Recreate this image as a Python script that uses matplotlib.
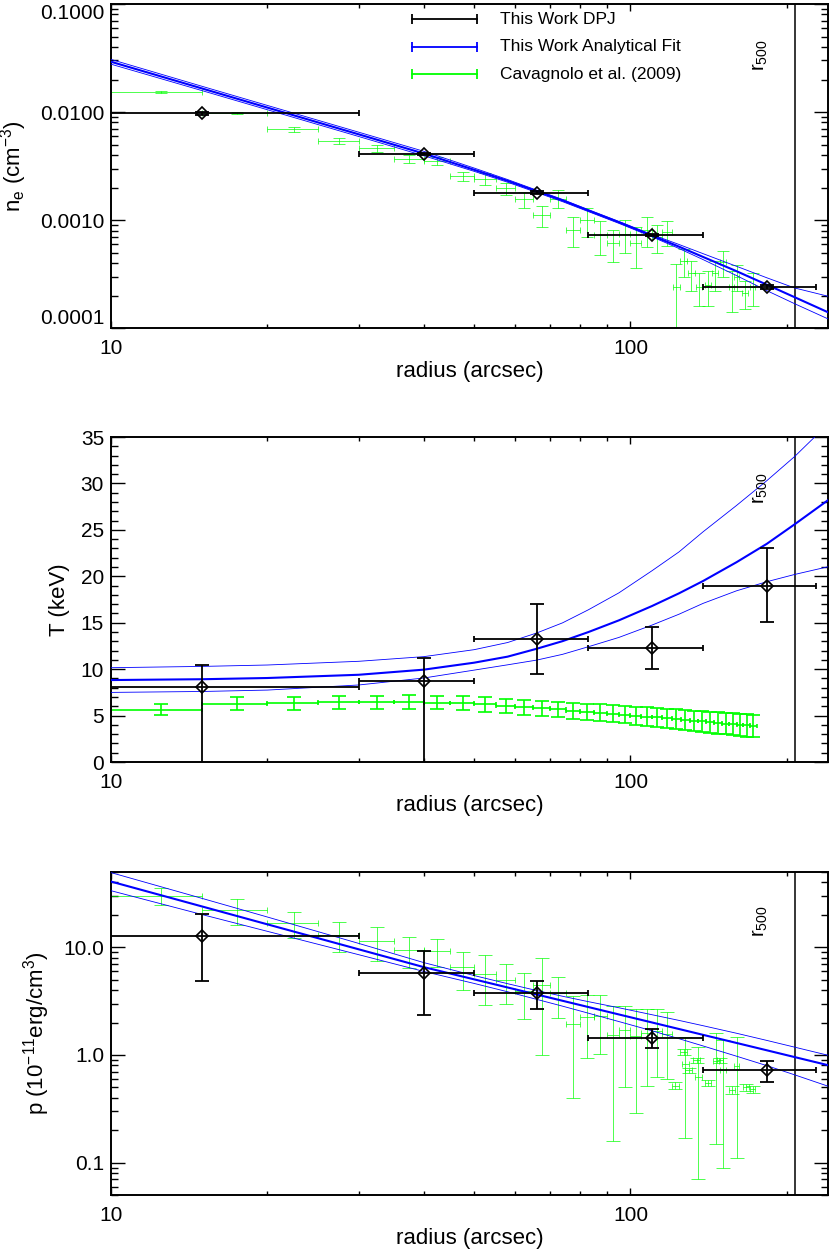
import matplotlib
matplotlib.use("Agg")
import matplotlib.pyplot as plt
from matplotlib.ticker import (FixedLocator, LogLocator, MultipleLocator,
                               FormatStrFormatter, NullFormatter)
import numpy as np

plt.rcParams.update({
    "font.family": ["Liberation Sans", "DejaVu Sans"],
    "mathtext.fontset": "custom",
    "mathtext.rm": "Liberation Sans",
    "mathtext.it": "Liberation Sans:italic",
    "font.size": 15,
    "axes.linewidth": 1.4,
})

# ---- this work, deprojected bins (arcsec)
dpj_r = [15, 40, 66, 110, 183]
dpj_rin = [0, 30, 50, 83, 138]
dpj_rout = [30, 50, 83, 138, 228]

dpj_ne = [0.0097, 0.00408, 0.00179, 0.000726, 0.000238]
dpj_ne_err = [0.0003, 0.0001, 0.00005, 0.00002, 0.00001]

dpj_T = [8.1, 8.7, 13.3, 12.3, 19.0]
dpj_T_lo = [9.0, 9.5, 3.8, 2.25, 3.9]
dpj_T_hi = [2.4, 2.5, 3.75, 2.25, 4.0]

dpj_p = [12.6, 5.74, 3.78, 1.45, 0.72]
dpj_p_err = [7.7, 3.4, 1.12, 0.28, 0.16]

# ---- analytical fit (best, upper, lower)
fit_r = [10, 15, 20, 30, 40, 50, 58, 66, 74, 83, 95, 110, 124, 138, 160, 183, 207, 240]
fit_ne = [0.0292, 0.01648, 0.01099, 0.00621, 0.00413, 0.00292, 0.002307, 0.00185,
          0.001519, 0.001225, 0.000954, 0.000717, 0.000567, 0.000455, 0.000336,
          0.000252, 0.000193, 0.00014]
fit_ne_hi = [0.0307, 0.01726, 0.01151, 0.0065, 0.00433, 0.00303, 0.002371, 0.00189,
             0.00155, 0.001247, 0.000971, 0.000733, 0.000594, 0.000488, 0.000373,
             0.000292, 0.000235, 0.000197]
fit_ne_lo = [0.02773, 0.01574, 0.0105, 0.00593, 0.00394, 0.002825, 0.002239, 0.0018,
             0.00148, 0.001197, 0.000932, 0.0007, 0.000545, 0.00043, 0.000306,
             0.000222, 0.000168, 0.0001216]

fit_T = [8.83, 8.92, 9.05, 9.4, 9.95, 10.7, 11.35, 12.2, 13.02, 14.0, 15.26, 16.8,
         18.17, 19.5, 21.52, 23.5, 25.6, 28.2]
fit_T_hi = [10.16, 10.3, 10.45, 10.85, 11.35, 12.1, 12.87, 13.9, 14.99, 16.4, 18.22,
            20.6, 22.63, 24.8, 27.63, 30.3, 32.9, 36.4]
fit_T_lo = [7.5, 7.6, 7.75, 8.3, 9.05, 9.9, 10.47, 10.98, 11.6, 12.42, 13.42, 14.75,
            15.92, 17.09, 18.44, 19.42, 20.2, 21.03]

fit_p = [40.8, 23.89, 16.34, 9.57, 6.545, 5.04, 4.236, 3.643, 3.186, 2.786, 2.378,
         2.004, 1.742, 1.537, 1.293, 1.105, 0.956, 0.804]
fit_p_hi = [49.4, 28.39, 19.11, 10.86, 7.21, 5.465, 4.592, 3.967, 3.51, 3.126, 2.744,
            2.365, 2.094, 1.869, 1.591, 1.365, 1.182, 0.994]
fit_p_lo = [33.55, 20.1, 14.07, 8.53, 5.97, 4.618, 3.864, 3.284, 2.84, 2.443, 2.043,
            1.678, 1.416, 1.212, 0.974, 0.796, 0.654, 0.513]

# ---- Cavagnolo et al. (2009)
cav_ne_r = [12.5, 17.5, 22.5, 27.5, 32.5, 37.5, 42.5, 47.5, 52.5, 57.5, 62.5,
            67.5, 72.5, 77.5, 82.5, 87.5, 92.5, 97.5, 102.5, 107.5, 112.5,
            117.5, 122.5, 126.5, 131.0, 135.5, 141.0, 145.5, 151.0, 156.5,
            160.0, 166.0, 172.0]
cav_ne_dr = [2.5] * 22 + [2.0] * 11
cav_ne = [0.0154, 0.0097, 0.0069, 0.0054, 0.0046, 0.0037, 0.0035, 0.00255,
          0.0024, 0.00196, 0.00155, 0.00111, 0.00158, 0.00081, 0.00100,
          0.00072, 0.00061, 0.00075, 0.00061, 0.00081, 0.00070, 0.00077,
          0.00024, 0.00042, 0.00032, 0.00024, 0.00025, 0.00032, 0.00041,
          0.00024, 0.00030, 0.00021, 0.00024]
cav_ne_err = [0.0003, 0.0002, 0.0003, 0.0003, 0.0003, 0.0003, 0.0003, 0.00025,
              0.0003, 0.00025, 0.00025, 0.00025, 0.0003, 0.00025, 0.0003,
              0.00025, 0.0002, 0.00025, 0.00025, 0.00025, 0.0002, 0.0002,
              0.00015, 0.00012, 0.0001, 0.00008, 0.00009, 0.0001, 0.00011,
              0.0001, 0.00008, 0.00006, 0.00008]

cav_T_r = [12.5, 17.5, 22.5, 27.5, 32.5, 37.5, 42.5, 47.5, 52.5, 57.5, 62.5,
           67.5, 72.5, 77.5, 82.5, 87.5, 92.5, 97.5, 102.5, 107.5, 112.5,
           117.5, 122.5, 127.5, 132.5, 137.5, 142.5, 147.5, 152.5, 157.5,
           162.5, 167.5, 172.5]
cav_T_dr = [2.5] * 33
cav_T = [5.63, 6.28, 6.35, 6.42, 6.45, 6.45, 6.4, 6.32, 6.2, 6.05, 5.9, 5.78,
         5.68, 5.55, 5.42, 5.3, 5.2, 5.1, 5.0, 4.9, 4.8, 4.7, 4.62, 4.53, 4.45,
         4.37, 4.28, 4.2, 4.13, 4.06, 4.0, 3.94, 3.88]
cav_T_err = [0.6, 0.68, 0.7, 0.7, 0.7, 0.72, 0.72, 0.74, 0.76, 0.78, 0.8, 0.82,
             0.84, 0.86, 0.88, 0.9, 0.92, 0.94, 0.96, 0.98, 1.0, 1.02, 1.04,
             1.06, 1.08, 1.1, 1.12, 1.14, 1.16, 1.18, 1.2, 1.21, 1.22]

cav_p_r = [12.5, 17.5, 22.5, 27.5, 32.5, 37.5, 42.5, 47.5, 52.5, 57.5, 62.5,
           67.5, 72.5, 77.5, 82.5, 87.5, 92.5, 97.5, 102.5, 107.5, 112.5,
           117.5, 122.0, 126.5, 127.5, 129.5, 134.0, 135.0, 141.0, 146.0,
           149.0, 151.0, 157.0, 160.0, 167.0, 172.0]
cav_p_dr = [2.5] * 22 + [2.0] * 14
cav_p = [30.0, 22.0, 16.7, 13.1, 11.5, 9.4, 9.2, 6.5, 5.65, 5.0, 3.94, 4.5,
         3.77, 1.95, 2.25, 2.3, 1.52, 1.69, 1.49, 1.6, 1.66, 1.55, 0.52, 1.07,
         0.82, 0.72, 0.89, 0.63, 0.55, 0.87, 0.89, 0.73, 0.47, 0.79, 0.50, 0.48]
cav_p_err = [5.5, 6.0, 4.6, 4.0, 4.0, 3.0, 2.7, 2.5, 2.75, 2.0, 1.8, 3.5, 1.58,
             1.55, 1.32, 1.28, 1.36, 1.19, 1.2, 1.09, 1.03, 0.95, 0.04, 0.06,
             0.65, 0.04, 0.05, 0.56, 0.04, 0.72, 0.05, 0.64, 0.04, 0.68, 0.04, 0.04]

r500 = 207

legend_labels = ["This Work DPJ", "This Work Analytical Fit", "Cavagnolo et al. (2009)"]
legend_colors = ["black", "#0000ff", "#00ff00"]

BLUE = "#0000ff"
GREEN = "#00ff00"


def idl_axis(ax):
    ax.set_xscale("log")
    ax.set_xlim(10, 240)
    ax.tick_params(which="both", direction="in", top=True, right=True, width=1.0)
    ax.tick_params(axis="x", which="major", length=5, pad=8)
    ax.tick_params(axis="x", which="minor", length=3)
    ax.tick_params(axis="y", which="major", length=10, pad=5)
    ax.tick_params(axis="y", which="minor", length=5)
    ax.xaxis.set_major_locator(FixedLocator([10, 100]))
    ax.xaxis.set_major_formatter(FormatStrFormatter("%d"))
    ax.xaxis.set_minor_locator(LogLocator(base=10, subs=np.arange(2, 10)))
    ax.xaxis.set_minor_formatter(NullFormatter())
    ax.set_xlabel("radius (arcsec)", labelpad=2, fontsize=16)
    ax.axvline(r500, color="black", lw=1.1)


def errs(ax, x, y, xlo, xhi, ylo, yhi, color, lw, xcap, ycap, alpha=1.0, z=2):
    ax.errorbar(x, y, xerr=[xlo, xhi], fmt="none", ecolor=color, elinewidth=lw,
                capsize=xcap, capthick=lw, alpha=alpha, zorder=z)
    ax.errorbar(x, y, yerr=[ylo, yhi], fmt="none", ecolor=color, elinewidth=lw,
                capsize=ycap, capthick=lw, alpha=alpha, zorder=z)


def dpj(ax, y, ylo, yhi):
    xlo = [r - a for r, a in zip(dpj_r, dpj_rin)]
    xhi = [b - r for r, b in zip(dpj_r, dpj_rout)]
    errs(ax, dpj_r, y, xlo, xhi, ylo, yhi, "black", 1.3, 2.5, 5.2, z=4)
    ax.plot(dpj_r, y, "D", ms=6.5, mfc="none", mec="black", mew=1.2, zorder=5)


def fits(ax, best, hi, lo):
    ax.plot(fit_r, best, color=BLUE, lw=1.5, zorder=3)
    ax.plot(fit_r, hi, color=BLUE, lw=0.6, zorder=3)
    ax.plot(fit_r, lo, color=BLUE, lw=0.6, zorder=3)


def r500_label(ax, y):
    ax.text(0.905, y, "r$_{500}$", rotation=90, transform=ax.transAxes,
            ha="center", va="center", fontsize=14.5)


def edge_labels(ax):
    ticks = ax.yaxis.get_major_ticks()
    ticks[0].label1.set_verticalalignment("bottom")
    ticks[-1].label1.set_verticalalignment("top")


fig = plt.figure(figsize=(8.3, 12.54), dpi=100)
ax1 = fig.add_axes([0.1337, 0.7384, 0.8639, 0.2584])
ax2 = fig.add_axes([0.1337, 0.3923, 0.8639, 0.2592])
ax3 = fig.add_axes([0.1337, 0.0470, 0.8639, 0.2576])

# ---- density
ax = ax1
idl_axis(ax)
ax.set_yscale("log")
ax.set_ylim(1e-4, 0.1)
ax.yaxis.set_major_locator(FixedLocator([1e-4, 1e-3, 1e-2, 1e-1]))
ax.yaxis.set_major_formatter(FormatStrFormatter("%.4f"))
ax.yaxis.set_minor_locator(LogLocator(base=10, subs=np.arange(2, 10)))
ax.yaxis.set_minor_formatter(NullFormatter())
errs(ax, cav_ne_r, cav_ne, cav_ne_dr, cav_ne_dr, cav_ne_err, cav_ne_err,
     GREEN, 0.7, 2.0, 4.0, alpha=0.7)
fits(ax, fit_ne, fit_ne_hi, fit_ne_lo)
dpj(ax, dpj_ne, dpj_ne_err, dpj_ne_err)
ax.set_ylabel("n$_\\mathrm{e}$ (cm$^{-3}$)", labelpad=8, fontsize=16)
r500_label(ax, 0.843)
ly = [0.9537, 0.868, 0.784]
for lab, col, yy in zip(legend_labels, legend_colors, ly):
    ax.plot([0.4194, 0.510], [yy, yy], color=col, lw=1.3, marker="|", ms=7.5,
            mew=1.3, transform=ax.transAxes, clip_on=False)
    ax.text(0.5425, yy, lab, transform=ax.transAxes, va="center", ha="left",
            fontsize=12.5)
edge_labels(ax)

# ---- temperature
ax = ax2
idl_axis(ax)
ax.set_ylim(0, 35)
ax.yaxis.set_major_locator(MultipleLocator(5))
ax.yaxis.set_minor_locator(MultipleLocator(1))
ax.yaxis.set_major_formatter(FormatStrFormatter("%d"))
errs(ax, cav_T_r, cav_T, cav_T_dr, cav_T_dr, cav_T_err, cav_T_err,
     GREEN, 1.2, 1.5, 5.0)
fits(ax, fit_T, fit_T_hi, fit_T_lo)
dpj(ax, dpj_T, dpj_T_lo, dpj_T_hi)
ax.set_ylabel("T (keV)", labelpad=8, fontsize=16)
r500_label(ax, 0.843)
edge_labels(ax)

# ---- pressure
ax = ax3
idl_axis(ax)
ax.set_yscale("log")
ax.set_ylim(0.05, 50)
ax.yaxis.set_major_locator(FixedLocator([0.1, 1.0, 10.0]))
ax.yaxis.set_major_formatter(FormatStrFormatter("%.1f"))
ax.yaxis.set_minor_locator(LogLocator(base=10, subs=np.arange(2, 10)))
ax.yaxis.set_minor_formatter(NullFormatter())
errs(ax, cav_p_r, cav_p, cav_p_dr, cav_p_dr, cav_p_err, cav_p_err,
     GREEN, 0.7, 2.0, 5.0, alpha=0.7)
fits(ax, fit_p, fit_p_hi, fit_p_lo)
dpj(ax, dpj_p, dpj_p_err, dpj_p_err)
ax.set_ylabel("p (10$^{-11}$erg/cm$^{3}$)", labelpad=8, fontsize=16)
r500_label(ax, 0.848)

fig.savefig("out.png", dpi=100)
